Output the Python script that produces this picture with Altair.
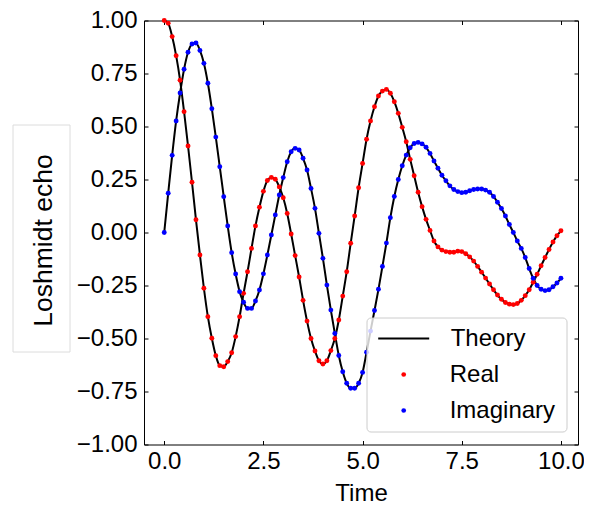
import altair as alt
import pandas as pd

# ---- data ----
time = [0.0, 0.1, 0.2, 0.3, 0.4, 0.5, 0.6, 0.7, 0.8, 0.9,
        1.0, 1.1, 1.2, 1.3, 1.4, 1.5, 1.6, 1.7, 1.8, 1.9,
        2.0, 2.1, 2.2, 2.3, 2.4, 2.5, 2.6, 2.7, 2.8, 2.9,
        3.0, 3.1, 3.2, 3.3, 3.4, 3.5, 3.6, 3.7, 3.8, 3.9,
        4.0, 4.1, 4.2, 4.3, 4.4, 4.5, 4.6, 4.7, 4.8, 4.9,
        5.0, 5.1, 5.2, 5.3, 5.4, 5.5, 5.6, 5.7, 5.8, 5.9,
        6.0, 6.1, 6.2, 6.3, 6.4, 6.5, 6.6, 6.7, 6.8, 6.9,
        7.0, 7.1, 7.2, 7.3, 7.4, 7.5, 7.6, 7.7, 7.8, 7.9,
        8.0, 8.1, 8.2, 8.3, 8.4, 8.5, 8.6, 8.7, 8.8, 8.9,
        9.0, 9.1, 9.2, 9.3, 9.4, 9.5, 9.6, 9.7, 9.8, 9.9,
        10.0]

real = [1.000, 0.987, 0.924, 0.834, 0.718, 0.570, 0.408, 0.237, 0.060, -0.106,
        -0.263, -0.397, -0.499, -0.581, -0.628, -0.633, -0.609, -0.567, -0.491, -0.397,
        -0.287, -0.185, -0.075, 0.031, 0.119, 0.194, 0.245, 0.260, 0.251, 0.215,
        0.164, 0.090, -0.007, -0.109, -0.210, -0.320, -0.418, -0.500, -0.559, -0.605,
        -0.620, -0.605, -0.557, -0.500, -0.413, -0.300, -0.185, -0.051, 0.078, 0.211,
        0.326, 0.440, 0.526, 0.593, 0.644, 0.667, 0.675, 0.657, 0.617, 0.562,
        0.496, 0.428, 0.345, 0.268, 0.190, 0.122, 0.062, 0.010, -0.040, -0.068,
        -0.083, -0.090, -0.093, -0.093, -0.088, -0.090, -0.100, -0.115, -0.135, -0.160,
        -0.187, -0.215, -0.243, -0.270, -0.295, -0.315, -0.330, -0.338, -0.340, -0.335,
        -0.320, -0.298, -0.270, -0.235, -0.197, -0.157, -0.118, -0.080, -0.045, -0.015,
        0.008]

imag = [0.000, 0.185, 0.364, 0.526, 0.658, 0.770, 0.850, 0.889, 0.894, 0.859,
        0.798, 0.704, 0.584, 0.450, 0.310, 0.169, 0.031, -0.095, -0.196, -0.279,
        -0.329, -0.358, -0.358, -0.323, -0.271, -0.195, -0.106, -0.012, 0.083, 0.177,
        0.259, 0.334, 0.381, 0.397, 0.389, 0.350, 0.295, 0.208, 0.114, -0.004,
        -0.122, -0.248, -0.366, -0.476, -0.580, -0.657, -0.711, -0.735, -0.735, -0.711,
        -0.660, -0.565, -0.465, -0.368, -0.268, -0.160, -0.050, 0.070, 0.170, 0.250,
        0.315, 0.365, 0.400, 0.420, 0.425, 0.418, 0.402, 0.373, 0.337, 0.303,
        0.270, 0.244, 0.220, 0.203, 0.193, 0.188, 0.190, 0.197, 0.203, 0.205,
        0.205, 0.200, 0.190, 0.170, 0.143, 0.113, 0.078, 0.038, 0.000, -0.040,
        -0.075, -0.118, -0.170, -0.216, -0.250, -0.268, -0.274, -0.270, -0.256, -0.238,
        -0.216]

x_ticks = [0, 2.5, 5, 7.5, 10]
y_ticks = [-1, -0.75, -0.5, -0.25, 0, 0.25, 0.5, 0.75, 1]
theory_label = ["Theory"]
point_labels = ["Real", "Imaginary"]
point_colors = ["red", "blue"]

df = pd.concat(
    [pd.DataFrame({"time": time, "value": real, "series": "Real"}),
     pd.DataFrame({"time": time, "value": imag, "series": "Imaginary"})],
    ignore_index=True,
)
df["kind"] = "Theory"

FONT = "Liberation Sans"
xscale = alt.Scale(domain=[-0.51, 10.43], nice=False, zero=False)
yscale = alt.Scale(domain=[-1, 1], nice=False, zero=False)

common = dict(offset=-4, tickSize=4, tickColor="black", tickWidth=1, domain=False,
              grid=False, labelFont=FONT, labelFontSize=24, labelColor="black",
              titleFont=FONT, titleColor="black", titleFontWeight="normal",
              labelFlush=False, labelOverlap=False)

x_bottom = alt.Axis(orient="bottom", values=x_ticks, format=".1f", labelPadding=4.5,
                    title="Time", titleFontSize=24, titleY=59.5,
                    titleBaseline="alphabetic", **common)
y_left = alt.Axis(orient="left", values=y_ticks, format=".2f", labelPadding=7,
                  title="Loshmidt echo", titleFontSize=26.5, titleAngle=270,
                  titleX=-96.3, titleY=219.5, titleAlign="center",
                  titleBaseline="alphabetic", **common)
x_top = alt.Axis(orient="top", values=x_ticks, labels=False, title="", **common)
y_right = alt.Axis(orient="right", values=y_ticks, labels=False, title="", **common)

legend_text = dict(title=None, orient="none", labelFont=FONT, labelFontSize=24,
                   labelColor="black", padding=0, rowPadding=12, legendX=247.7)

lines = alt.Chart(df).mark_line(strokeWidth=2, interpolate="monotone").encode(
    x=alt.X("time:Q", scale=xscale, axis=x_bottom),
    y=alt.Y("value:Q", scale=yscale, axis=y_left),
    detail="series:N",
    stroke=alt.Stroke("kind:N", scale=alt.Scale(domain=theory_label, range=["black"]),
                      legend=alt.Legend(legendY=306, symbolType="M-2.55,0L2.55,0",
                                        symbolSize=400, symbolStrokeWidth=2,
                                        symbolStrokeColor="black", labelOffset=35,
                                        **legend_text)),
)

points = alt.Chart(df).mark_point(filled=True, size=24, opacity=1).encode(
    x=alt.X("time:Q", scale=xscale, axis=None),
    y=alt.Y("value:Q", scale=yscale, axis=None),
    fill=alt.Fill("series:N", scale=alt.Scale(domain=point_labels, range=point_colors),
                  legend=alt.Legend(legendY=342, symbolType="circle",
                                    symbolSize=22, symbolStrokeWidth=0,
                                    labelOffset=34, **legend_text)),
)

frame = alt.Chart(df).mark_point(opacity=0).encode(
    x=alt.X("time:Q", scale=xscale, axis=x_top),
    y=alt.Y("value:Q", scale=yscale, axis=y_right),
)

legend_box = alt.Chart(pd.DataFrame({"k": [0]})).mark_rect(
    fill="white", fillOpacity=0.8, stroke="#cccccc", strokeWidth=1, cornerRadius=4
).encode(x=alt.value(223), x2=alt.value(423), y=alt.value(297.5), y2=alt.value(411.5))

title_box = alt.Chart(pd.DataFrame({"k": [0]})).mark_rect(
    fillOpacity=0, stroke="#dcdcdc", strokeWidth=1
).encode(x=alt.value(-131), x2=alt.value(-74), y=alt.value(104.5), y2=alt.value(331.5))

chart = (
    alt.layer(lines, points, frame, legend_box, title_box)
    .resolve_axis(x="independent", y="independent")
    .properties(
        width=434, height=424,
        padding={"left": 136, "top": 12.5, "right": 6, "bottom": 56},
        autosize=alt.AutoSizeParams(type="none"),
        background="white",
    )
    .configure_view(stroke="black", strokeWidth=1)
)

chart.save("out.html", embed_options={"renderer": "svg", "actions": False})
